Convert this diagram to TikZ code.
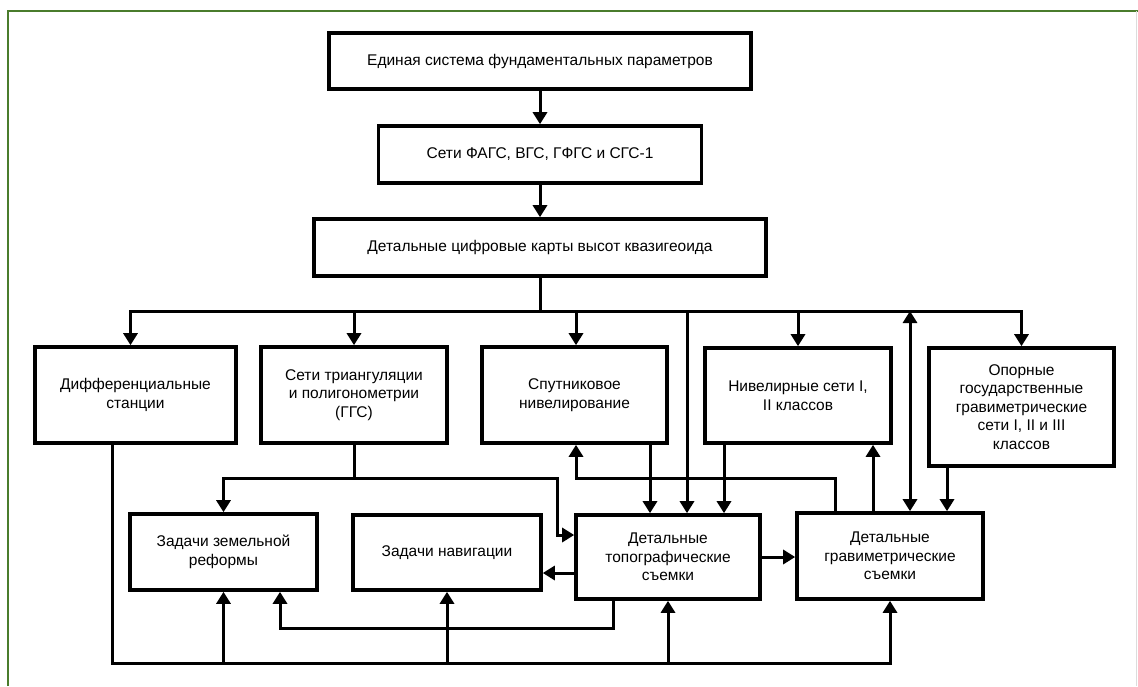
\documentclass[tikz,border=0pt]{standalone}
\usepackage{fontspec}
\setmainfont{Liberation Sans}
\usepackage{tikz}
\usetikzlibrary{arrows.meta, positioning, calc}
\definecolor{framegreen}{RGB}{74, 124, 44}
\definecolor{framegray}{RGB}{220, 220, 220}

\begin{document}
\begin{tikzpicture}[
    x=1pt, y=-1pt,
    block/.style={rectangle, draw, line width=3.6pt, align=center, inner sep=2pt, font=\fontsize{15.5}{18.5}\selectfont},
    link/.style={line width=3pt, -{Triangle[length=12pt, width=14pt]}},
    both/.style={line width=3pt, {Triangle[length=12pt, width=14pt]}-{Triangle[length=12pt, width=14pt]}}
]

% Frame
\fill[white] (0,0) rectangle (1138,686);
\useasboundingbox (0,0) rectangle (1138,686);
\draw[framegreen, line width=2.5pt] (8,686) -- (8,11) -- (1138,11);
\draw[framegray, line width=1pt] (1136,11) -- (1136,686);

% Top chain
\node[block, minimum width=422pt, minimum height=56pt] (fund) at (540,61) {Единая система фундаментальных параметров};
\node[block, minimum width=323pt, minimum height=57pt] (seti) at (540,154.5) {Сети ФАГС, ВГС, ГФГС и СГС-1};
\node[block, minimum width=452pt, minimum height=57pt] (karty) at (540,247.5) {Детальные цифровые карты высот квазигеоида};

% Second row
\node[block, minimum width=201pt, minimum height=96pt] (diff) at (135.5,395) {Дифференциальные\\станции};
\node[block, minimum width=186pt, minimum height=96pt] (triang) at (354,395) {Сети триангуляции\\и полигонометрии\\(ГГС)};
\node[block, minimum width=185pt, minimum height=96pt] (sput) at (574.5,395) {Спутниковое\\нивелирование};
\node[block, minimum width=186pt, minimum height=95pt] (nivel) at (798,395.5) {Нивелирные сети I,\\II классов};
\node[block, minimum width=185pt, minimum height=118pt] (opor) at (1021.5,407) {Опорные\\государственные\\гравиметрические\\сети I, II и III\\классов};

% Third row
\node[block, minimum width=187pt, minimum height=76pt] (zemel) at (223.5,552) {Задачи земельной\\реформы};
\node[block, minimum width=188pt, minimum height=75pt] (navig) at (447,552.5) {Задачи навигации};
\node[block, minimum width=184pt, minimum height=84pt] (topo) at (668,557) {Детальные\\топографические\\съемки};
\node[block, minimum width=186pt, minimum height=86pt] (grav) at (890,556) {Детальные\\гравиметрические\\съемки};

% Bus rows and wire columns
\coordinate (bus) at (540,311);
\coordinate (midrow) at (0,478);
\coordinate (lowrow) at (0,628);
\coordinate (botrow) at (0,663);
\coordinate (navrow) at (0,573);
\coordinate (cd) at (112,0);
\coordinate (cz) at (280,0);
\coordinate (ck) at (557,535);
\coordinate (cs) at (576,0);
\coordinate (cr) at (613,0);
\coordinate (c1) at (650,0);
\coordinate (c2) at (687,0);
\coordinate (c3) at (724,0);
\coordinate (c4) at (835,0);
\coordinate (c5) at (873,0);
\coordinate (c6) at (910,0);
\coordinate (c7) at (947,0);

% Top arrows
\draw[link] (fund) -- (seti);
\draw[link] (seti) -- (karty);
\draw[line width=3pt] (karty.south) -- (bus);
\draw[link] (bus) -| ([xshift=-5pt]diff.north);
\draw[link] (bus) -| (triang.north);
\draw[link] (bus) -| (cs |- sput.north);
\draw[link] (bus) -| (nivel.north);
\draw[link] (bus) -| (opor.north);
\draw[link] (bus -| c2) -- (topo.north -| c2);
\draw[both] (grav.north -| c6) -- (bus -| c6);

% Into the survey boxes
\draw[link] (sput.south -| c1) -- (topo.north -| c1);
\draw[link] (nivel.south -| c3) -- (topo.north -| c3);
\draw[link] (grav.north -| c5) -- (nivel.south -| c5);
\draw[link] (opor.south -| c7) -- (grav.north -| c7);
\draw[link] (grav.north -| c4) -- (midrow -| c4) -| (sput.south -| cs);

% From the triangulation networks
\draw[link] (triang.south) -- (triang.south |- midrow) -| (zemel.north);
\draw[link] (triang.south |- midrow) -| (ck) -- (topo.west |- ck);

% Between the survey boxes
\draw[link] (topo.west |- navrow) -- (navig.east |- navrow);
\draw[link] (topo.east) -- (topo.east -| grav.west);
\draw[link] (topo.south -| cr) |- (lowrow -| cz) -- (zemel.south -| cz);

% Bottom bus from the differential stations
\draw[link] (diff.south -| cd) -- (botrow -| cd) -| (grav.south);
\draw[link] (botrow -| zemel) -- (zemel.south);
\draw[link] (botrow -| navig) -- (navig.south);
\draw[link] (botrow -| topo) -- (topo.south);

\end{tikzpicture}
\end{document}
